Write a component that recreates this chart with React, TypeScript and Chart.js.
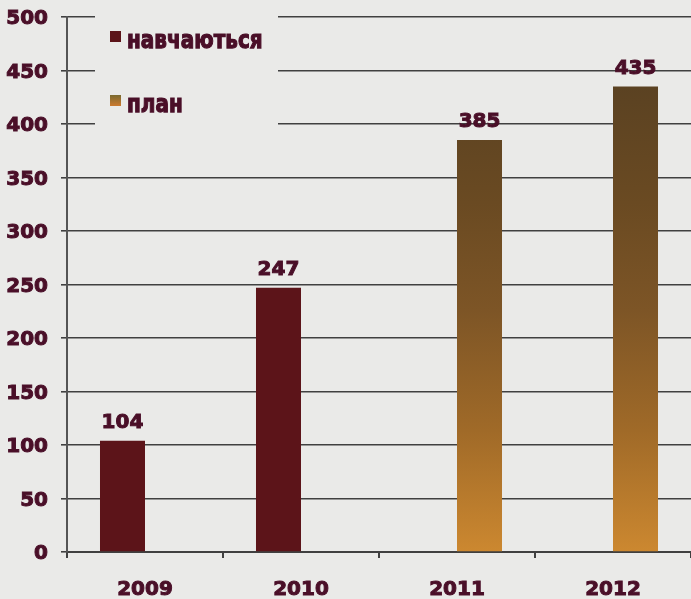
import React, { useEffect, useRef } from 'react';
import { Chart, registerables } from 'chart.js';

Chart.register(...registerables);

// ---- data ----
const years = ['2009', '2010', '2011', '2012'];
const studying: (number | null)[] = [104, 247, null, null];
const planned: (number | null)[] = [null, null, 385, 435];
const seriesNames = ['навчаються', 'план'];
const yMin = 0;
const yMax = 500;
const yStep = 50;

// ---- styles ----
const BG = '#eaeae8';
const TEXT = '#4a0f28';
const RED = '#5c1419';
const GRID = '#404040';
const FONT = "'DejaVu Sans', sans-serif";

function planGradientStops(g: CanvasGradient) {
  g.addColorStop(0, '#5b4222');
  g.addColorStop(0.25, '#6a4a22');
  g.addColorStop(0.48, '#7d5526');
  g.addColorStop(0.74, '#a06a28');
  g.addColorStop(1, '#cc8830');
}

function heavyText(ctx: CanvasRenderingContext2D, text: string, x: number, y: number) {
  ctx.fillText(text, x, y);
  ctx.strokeText(text, x, y);
}

export default function App() {
  const ref = useRef<HTMLCanvasElement>(null);

  useEffect(() => {
    const canvas = ref.current!;

    const planColor = (c: any) => {
      const chart = c.chart;
      const area = chart.chartArea;
      if (!area) return '#8a5a25';
      const ys = chart.scales.y;
      const maxV = Math.max(...(planned.filter((v) => v != null) as number[]));
      const g = chart.ctx.createLinearGradient(0, ys.getPixelForValue(maxV), 0, ys.getPixelForValue(0));
      planGradientStops(g);
      return g;
    };

    const overlay = {
      id: 'overlay',
      beforeDatasetsDraw(chart: any) {
        const ctx = chart.ctx as CanvasRenderingContext2D;
        const a = chart.chartArea;
        ctx.save();
        // legend box background (hides gridlines behind it)
        ctx.fillStyle = BG;
        ctx.fillRect(a.left + 28, a.top - 12, 183, 130);
        // legend entries
        const sx = a.left + 43;
        const items = [
          { y: a.top + 14, text: seriesNames[0], fill: RED as any },
          { y: a.top + 78, text: seriesNames[1], fill: null as any },
        ];
        items.forEach((it) => {
          let fill = it.fill;
          if (!fill) {
            const g = ctx.createLinearGradient(0, it.y, 0, it.y + 11);
            g.addColorStop(0, '#7a6a30');
            g.addColorStop(1, '#cc7a2e');
            fill = g;
          }
          ctx.fillStyle = fill;
          ctx.fillRect(sx, it.y, 11, 11);
          ctx.save();
          ctx.translate(sx + 17, it.y + 17);
          ctx.scale(1, 1.25);
          ctx.fillStyle = TEXT;
          ctx.strokeStyle = TEXT;
          ctx.lineWidth = 1;
          ctx.font = `bold 20px ${FONT}`;
          ctx.textAlign = 'left';
          ctx.textBaseline = 'alphabetic';
          heavyText(ctx, it.text, 0, 0);
          ctx.restore();
        });
        ctx.restore();
      },
      afterDatasetsDraw(chart: any) {
        const ctx = chart.ctx as CanvasRenderingContext2D;
        ctx.save();
        ctx.fillStyle = TEXT;
        ctx.strokeStyle = TEXT;
        ctx.lineWidth = 1;
        ctx.font = `bold 20px ${FONT}`;
        ctx.textAlign = 'center';
        ctx.textBaseline = 'alphabetic';
        chart.data.datasets.forEach((ds: any, i: number) => {
          const meta = chart.getDatasetMeta(i);
          meta.data.forEach((el: any, j: number) => {
            const v = ds.data[j];
            if (v == null) return;
            heavyText(ctx, String(v), el.x, el.y - 13);
          });
        });
        ctx.restore();
      },
    };

    const tickFont = { family: FONT, size: 20, weight: 'bold' };

    const chart = new Chart(canvas, {
      type: 'bar',
      data: {
        labels: years,
        datasets: [
          {
            label: seriesNames[0],
            data: studying,
            backgroundColor: RED,
            categoryPercentage: 0.577,
            barPercentage: 1,
          },
          {
            label: seriesNames[1],
            data: planned,
            backgroundColor: planColor,
            categoryPercentage: 0.577,
            barPercentage: 1,
          },
        ],
      },
      options: {
        animation: false,
        responsive: true,
        maintainAspectRatio: false,
        layout: { padding: { top: 17, right: 0, left: 0, bottom: 0 } },
        plugins: {
          legend: { display: false },
          tooltip: { enabled: false },
        },
        scales: {
          x: {
            offset: true,
            grid: {
              offset: true,
              drawOnChartArea: false,
              drawTicks: true,
              tickLength: 6,
              color: GRID,
              lineWidth: 2,
            },
            border: { display: true, color: GRID, width: 2 },
            ticks: {
              color: TEXT,
              font: tickFont,
              padding: 20,
              textStrokeColor: TEXT,
              textStrokeWidth: 1,
            },
            afterFit: (s: any) => {
              s.height = 47;
              s.paddingLeft = 0;
              s.paddingRight = 0;
            },
          },
          y: {
            min: yMin,
            max: yMax,
            ticks: {
              stepSize: yStep,
              padding: 13,
              labelOffset: 2,
              color: TEXT,
              font: tickFont,
              textStrokeColor: TEXT,
              textStrokeWidth: 1,
            },
            grid: { color: GRID, lineWidth: 1.6, tickLength: 6 },
            border: { display: true, color: '#555', width: 2 },
            afterFit: (s: any) => {
              s.width = 67;
              s.paddingTop = 0;
              s.paddingBottom = 0;
            },
          },
        },
      },
      plugins: [overlay],
    } as any);

    return () => chart.destroy();
  }, []);

  return (
    <div
      style={{
        position: 'absolute',
        left: 0,
        top: 0,
        width: 691,
        height: 599,
        background: BG,
      }}
    >
      <canvas ref={ref} />
    </div>
  );
}
